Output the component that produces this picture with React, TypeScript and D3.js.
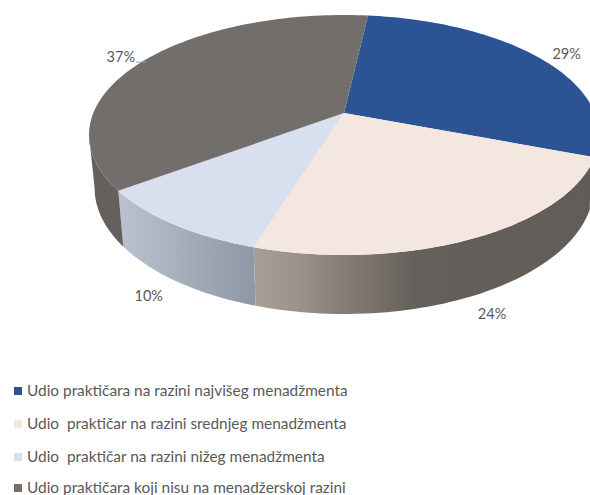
import React from "react";
import * as d3 from "d3";

const W = 590, H = 495;
const categories = [
  "Udio praktičara na razini najvišeg menadžmenta",
  "Udio  praktičar na razini srednjeg menadžmenta",
  "Udio  praktičar na razini nižeg menadžmenta",
  "Udio praktičara koji nisu na menadžerskoj razini",
];
const values = [29, 24, 10, 37];
const topColors = ["#2c5494", "#f4e7df", "#d8dfee", "#726e6c"];
const legendColors = ["#2c5494", "#f4e7df", "#d8dfee", "#757070"];
const labelOffsets = [[27, -4], [17, 76], [-25, 72], [-24, -3]];
const legendY = [391, 424, 457, 488];

const cx = 344, cy = 135, rx = 255, ry = 120;
const a = -0.183; // perspective shift of the pie centre
const startDeg = 6.5;
const depthScaleX = 0.978, depthScaleY = 1.05, depthShift = 188;

// angles where the rim reaches its left and right extremes: only this front part has a wall
const frontStart = Math.acos(a);
const frontEnd = 2 * Math.PI - frontStart;

function project(theta: number): [number, number] {
  const u = Math.sin(theta), v = -Math.cos(theta);
  const w = 1 + a * v;
  return [cx + (rx * u * Math.sqrt(1 - a * a)) / w, cy + (ry * (v + a)) / w];
}
function lower(p: [number, number]): [number, number] {
  return [cx + (p[0] - cx) * depthScaleX, depthShift + (p[1] - cy) * depthScaleY];
}

const pie = d3.pie<number>().sort(null)
  .startAngle((startDeg * Math.PI) / 180)
  .endAngle((startDeg * Math.PI) / 180 + 2 * Math.PI);
const arcs = pie(values);
const line = d3.line();
const font = "Lato, Carlito, Calibri, sans-serif";

function rim(s: number, e: number) {
  const n = Math.max(8, Math.ceil((e - s) * 40));
  return d3.range(n + 1).map((i) => project(s + ((e - s) * i) / n));
}

export default function App() {
  const sideFill = ["#1f3c6c", "url(#gBeige)", "url(#gLight)", "#65605d"];
  return (
    <svg width={W} height={H} viewBox={`0 0 ${W} ${H}`}
      style={{ position: "absolute", left: 0, top: 0, display: "block", background: "#fff" }}>
      <defs>
        <linearGradient id="gBeige" gradientUnits="userSpaceOnUse" x1={253} x2={590} y1={0} y2={0}>
          <stop offset="0" stopColor="#a99f97" />
          <stop offset="0.13" stopColor="#9c948c" />
          <stop offset="0.25" stopColor="#8a807a" />
          <stop offset="0.48" stopColor="#65605b" />
          <stop offset="1" stopColor="#625c58" />
        </linearGradient>
        <linearGradient id="gLight" gradientUnits="userSpaceOnUse" x1={120} x2={253} y1={0} y2={0}>
          <stop offset="0" stopColor="#bac2d0" />
          <stop offset="1" stopColor="#8f98a6" />
        </linearGradient>
      </defs>
      {arcs.map((d, i) => {
        const s = Math.max(d.startAngle, frontStart);
        const e = Math.min(d.endAngle, frontEnd);
        if (e <= s) return null;
        const pts = rim(s, e);
        const low = pts.map(lower).reverse();
        return <path key={i} d={line([...pts, ...low]) + "Z"} fill={sideFill[i]} />;
      })}
      {arcs.map((d, i) => {
        const pts = rim(d.startAngle, d.endAngle);
        return <path key={i} d={line([[cx, cy + ry * a], ...pts]) + "Z"} fill={topColors[i]} />;
      })}
      {arcs.map((d, i) => {
        const p = project((d.startAngle + d.endAngle) / 2);
        return (
          <text key={i} x={p[0] + labelOffsets[i][0]} y={p[1] + labelOffsets[i][1]} dy="0.35em"
            textAnchor="middle" fontFamily={font} fontSize={14.5} fill="#595959">
            {d3.format(".0f")(d.data)}%
          </text>
        );
      })}
      {(() => {
        const p = project((arcs[3].startAngle + arcs[3].endAngle) / 2);
        return <line x1={p[0] - 9} x2={p[0] + 1} y1={p[1] + 2} y2={p[1] + 2} stroke="#a6a6a6" strokeWidth={1} />;
      })()}
      {categories.map((c, i) => (
        <g key={i}>
          <rect x={14} y={legendY[i] - 4} width={8} height={8} fill={legendColors[i]} />
          <text x={27} y={legendY[i]} dy="0.35em" fontFamily={font} fontSize={15.4} fill="#595959" xmlSpace="preserve" style={{ whiteSpace: "pre" }}>
            {c}
          </text>
        </g>
      ))}
    </svg>
  );
}
